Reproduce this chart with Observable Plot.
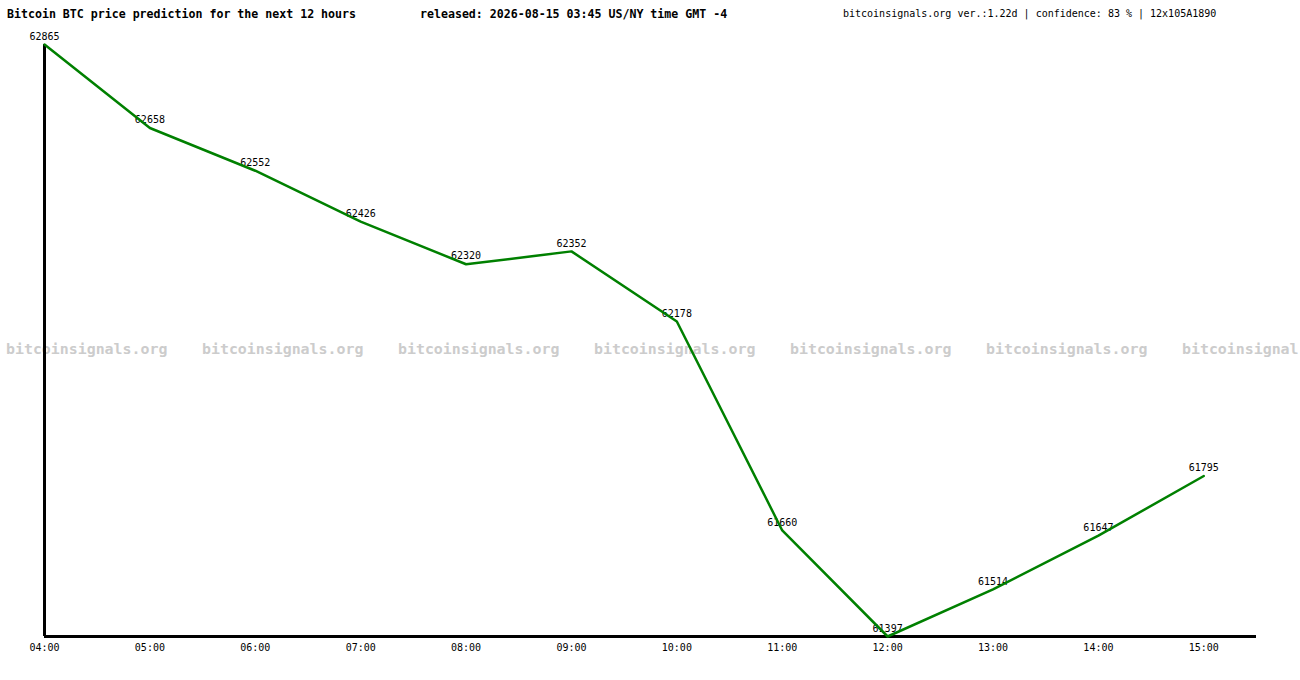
<!DOCTYPE html>
<html>
<head>
<meta charset="utf-8">
<script src="https://cdn.jsdelivr.net/npm/d3@7"></script>
<script src="https://cdn.jsdelivr.net/npm/@observablehq/plot@0.6"></script>
<style>
  html, body { margin: 0; padding: 0; background: #fff; }
  #wrap { position: relative; width: 1300px; height: 680px; overflow: hidden; font-family: "DejaVu Sans Mono", "Liberation Mono", monospace; }
  .hdr { position: absolute; top: 6px; white-space: pre; color: #000; line-height: 16px; }
  #title { left: 7px; font-weight: bold; font-size: 11.6px; }
  #released { left: 420px; font-weight: bold; font-size: 11.6px; }
  #info { left: 843px; font-size: 10px; }
  #wm { position: absolute; left: 6px; top: 339px; white-space: nowrap; z-index: 0; }
  #wm span { display: inline-block; width: 196px; color: #cccccc; font-weight: bold; font-size: 14.9px; line-height: 18px; }
  #chart { position: absolute; left: 0; top: 0; z-index: 1; }
</style>
</head>
<body>
<div id="wrap">
  <div id="wm"></div>
  <div id="chart"></div>
  <div class="hdr" id="title"></div>
  <div class="hdr" id="released"></div>
  <div class="hdr" id="info"></div>
</div>
<script>
const titleText = "Bitcoin BTC price prediction for the next 12 hours";
const releasedText = "released: 2026-08-15 03:45 US/NY time GMT -4";
const infoText = "bitcoinsignals.org ver.:1.22d | confidence: 83 % | 12x105A1890";
// watermark copies as visible in the picture (the last one is clipped at the right edge)
const watermarkTexts = ["bitcoinsignals.org","bitcoinsignals.org","bitcoinsignals.org","bitcoinsignals.org","bitcoinsignals.org","bitcoinsignals.org","bitcoinsignal"];
const hours = ["04:00","05:00","06:00","07:00","08:00","09:00","10:00","11:00","12:00","13:00","14:00","15:00"];
const prices = [62865, 62658, 62552, 62426, 62320, 62352, 62178, 61660, 61397, 61514, 61647, 61795];

document.getElementById("title").textContent = titleText;
document.getElementById("released").textContent = releasedText;
document.getElementById("info").textContent = infoText;
const wm = document.getElementById("wm");
for (const t of watermarkTexts) {
  const s = document.createElement("span");
  s.textContent = t;
  wm.appendChild(s);
}

const data = hours.map((h, i) => ({i, h, p: prices[i]}));
const yMin = d3.min(prices), yMax = d3.max(prices);

const chart = Plot.plot({
  width: 1300,
  height: 680,
  marginLeft: 44,
  marginRight: 44,
  marginTop: 44,
  marginBottom: 44,
  style: {background: "transparent", fontFamily: "'DejaVu Sans Mono', monospace", fontSize: "10px", color: "#000"},
  x: {domain: [0, hours.length - 0.5], axis: null, label: null},
  y: {domain: [yMin, yMax], axis: null, label: null},
  marks: [
    Plot.axisX({ticks: d3.range(hours.length), tickFormat: i => hours[i], tickSize: 0, tickPadding: 7, fontSize: 10, fill: "#000", label: null}),
    Plot.text(data, {x: "i", y: "p", text: d => String(d.p), dy: -8, fontSize: 10, fill: "#000"}),
    Plot.ruleY([yMin], {stroke: "#000", strokeWidth: 3}),
    Plot.ruleX([0], {stroke: "#000", strokeWidth: 3}),
    Plot.line(data, {x: "i", y: "p", stroke: "#008000", strokeWidth: 2.5})
  ]
});
document.getElementById("chart").appendChild(chart);
</script>
</body>
</html>
